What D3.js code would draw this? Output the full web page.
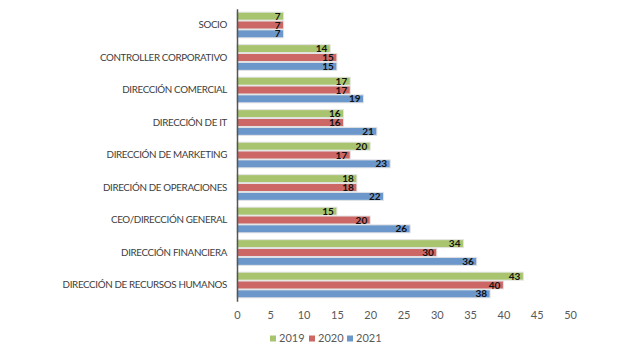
<!DOCTYPE html>
<html><head><meta charset="utf-8">
<script src="https://cdn.jsdelivr.net/npm/d3@7"></script>
<style>body{margin:0;background:#fff}svg{display:block}</style>
</head><body>
<script>
const categories = ["SOCIO","CONTROLLER CORPORATIVO","DIRECCIÓN COMERCIAL","DIRECCIÓN DE IT","DIRECCIÓN DE MARKETING","DIRECIÓN DE OPERACIONES","CEO/DIRECCIÓN GENERAL","DIRECCIÓN FINANCIERA","DIRECCIÓN DE RECURSOS HUMANOS"];
const seriesNames = ["2019","2020","2021"];
const values2019 = [7,14,17,16,20,18,15,34,43];
const values2020 = [7,15,17,16,17,18,20,30,40];
const values2021 = [7,15,19,21,23,22,26,36,38];
const xTicks = [0,5,10,15,20,25,30,35,40,45,50];
const colors = ["#A9C46E","#CC6765","#6B97CB"];

const W=640,H=358;
const svg=d3.select("body").append("svg").attr("width",W).attr("height",H);
const font="Lato, 'Open Sans', sans-serif";
const x=d3.scaleLinear().domain([0,50]).range([237,570]);
const y=d3.scaleBand().domain(categories).range([8.75,301.25]).paddingInner(0.21).paddingOuter(0.105);
const sub=d3.scaleBand().domain(seriesNames).range([0,y.bandwidth()]).paddingInner(0.1);
const data=[values2019,values2020,values2021];

const g=svg.append("g");
categories.forEach((c,i)=>{
  seriesNames.forEach((s,j)=>{
    const v=data[j][i];
    const yy=y(c)+sub(s);
    g.append("rect").attr("x",x(0)).attr("y",yy).attr("width",x(v)-x(0)).attr("height",sub.bandwidth())
      .attr("fill",colors[j]).attr("stroke","#e4e4e4").attr("stroke-width",1);
  });
});
categories.forEach((c,i)=>{
  seriesNames.forEach((s,j)=>{
    const v=data[j][i];
    const yy=y(c)+sub(s);
    g.append("text").attr("x",x(v)-3).attr("y",yy+sub.bandwidth()/2).attr("dy","0.36em")
      .attr("text-anchor","end").attr("font-family",font).attr("font-weight","bold").attr("font-size",10)
      .attr("fill","#111").text(v);
  });
});

// y axis
const ya=svg.append("g").attr("transform",`translate(${x(0)},0)`).call(d3.axisLeft(y).tickSize(0).tickPadding(10));
ya.select(".domain").attr("stroke","#555").attr("stroke-width",1.5);
ya.selectAll("text").attr("font-family",font).attr("font-size",9.8).attr("letter-spacing",-0.35).attr("fill","#404040");

// x axis
const xa=svg.append("g").attr("transform",`translate(0,${y.range()[1]})`).call(d3.axisBottom(x).tickValues(xTicks).tickSize(0).tickPadding(10));
xa.select(".domain").remove();
xa.selectAll("text").attr("font-family",font).attr("font-size",11).attr("fill","#595959");

// legend
const lx=[270,309,347];
seriesNames.forEach((s,j)=>{
  svg.append("rect").attr("x",lx[j]).attr("y",335.5).attr("width",6).attr("height",6).attr("fill",colors[j]);
  svg.append("text").attr("x",lx[j]+9).attr("y",338.5).attr("dy","0.35em").attr("font-family",font).attr("font-size",11).attr("fill","#595959").text(s);
});
</script>
</body></html>
